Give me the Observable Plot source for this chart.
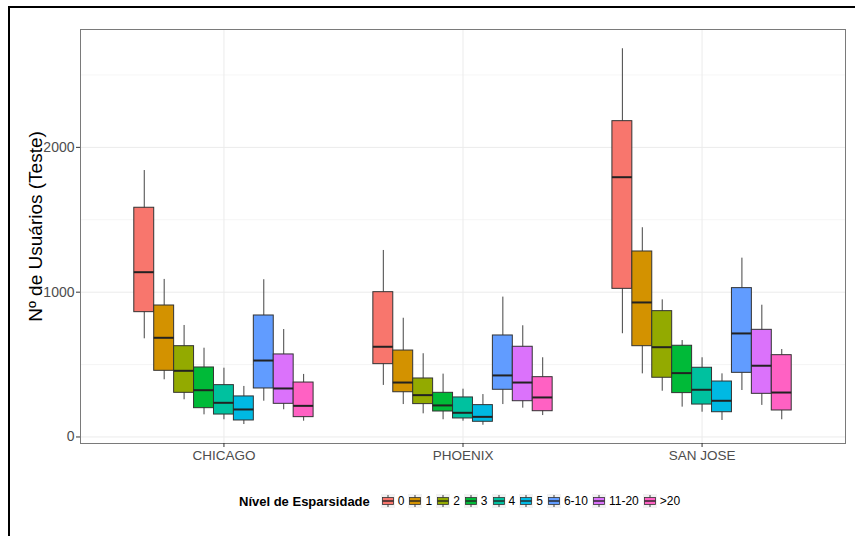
<!DOCTYPE html>
<html>
<head>
<meta charset="utf-8">
<script src="https://cdn.jsdelivr.net/npm/d3@7"></script>
<script src="https://cdn.jsdelivr.net/npm/@observablehq/plot@0.6"></script>
<style>
  html, body { margin: 0; padding: 0; background: #fff; }
  #wrap { position: relative; width: 855px; height: 536px; overflow: hidden; font-family: "Liberation Sans", Arial, Helvetica, sans-serif; }
  #chart { position: absolute; left: 0; top: 0; }
  #edge { position: absolute; left: 8px; top: 6px; width: 1000px; height: 1000px;
          border-top: 2px solid #000; border-left: 2px solid #000; pointer-events: none; z-index: 5; }
  #legend { position: absolute; left: 239px; top: 492px; display: flex; align-items: center;
            height: 18px; white-space: nowrap; color: #000; }
  #legend .title { font-weight: bold; font-size: 13px; margin-right: 11px; }
  #legend .item { display: flex; align-items: center; margin-right: 4px; }
  #legend .item svg { display: block; margin-right: 3px; }
  #legend .item span { font-size: 12px; color: #000; }
</style>
</head>
<body>
<div id="wrap">
  <div id="chart"></div>
  <div id="legend"></div>
  <div id="edge"></div>
</div>
<script>
// Cities on the x axis and sparsity levels dodged within each city
const cities = ["CHICAGO", "PHOENIX", "SAN JOSE"];
const levels = ["0", "1", "2", "3", "4", "5", "6-10", "11-20", ">20"];
const levelColors = ["#F8766D", "#D39200", "#93AA00", "#00BA38", "#00C19F", "#00B9E3", "#619CFF", "#DB72FB", "#FF61C3"];

// Box statistics, one row per city, one value per sparsity level
const whiskerLow = [
  [678, 395, 257, 153, 119, 86, 247, 188, 109],
  [356, 224, 160, 119, 109, 81, 224, 199, 148],
  [713, 436, 316, 206, 171, 114, 321, 218, 119]
];
const quartile1 = [
  [862, 457, 305, 199, 155, 114, 335, 229, 137],
  [503, 309, 227, 176, 128, 105, 326, 247, 178],
  [1023, 627, 409, 303, 224, 171, 443, 298, 183]
];
const median = [
  [1138, 685, 457, 323, 236, 190, 528, 335, 215],
  [623, 376, 289, 218, 167, 139, 425, 376, 273],
  [1794, 929, 620, 441, 326, 250, 715, 492, 307]
];
const quartile3 = [
  [1583, 908, 627, 480, 358, 280, 839, 570, 376],
  [1000, 597, 404, 305, 273, 220, 701, 623, 413],
  [2181, 1281, 869, 630, 478, 383, 1028, 740, 565]
];
const whiskerHigh = [
  [1840, 1088, 770, 613, 475, 349, 1086, 742, 432],
  [1288, 820, 575, 434, 330, 293, 966, 768, 547],
  [2681, 1445, 947, 666, 547, 436, 1235, 910, 604]
];

const yTicks = [0, 1000, 2000];
const yMinorGrid = [500, 1500, 2500];

// Dodge the nine levels across 75% of each city's slot
const dodgeWidth = 0.75;
const boxWidth = dodgeWidth / levels.length;

const rows = [];
cities.forEach((city, ci) => {
  levels.forEach((level, li) => {
    rows.push({
      city, level,
      x: ci + (li - (levels.length - 1) / 2) * boxWidth,
      lo: whiskerLow[ci][li],
      q1: quartile1[ci][li],
      med: median[ci][li],
      q3: quartile3[ci][li],
      hi: whiskerHigh[ci][li]
    });
  });
});

const ink = "#333333";
const font = '"Liberation Sans", Arial, Helvetica, sans-serif';

const chart = Plot.plot({
  width: 855,
  height: 470,
  marginLeft: 80,
  marginRight: 10,
  marginTop: 29,
  marginBottom: 27,
  style: { fontFamily: font, fontSize: "13.5px", color: "#4d4d4d", background: "transparent" },
  x: { domain: [-0.6, 2.6], axis: null },
  y: { domain: [-45, 2814], axis: null },
  color: { domain: levels, range: levelColors },
  marks: [
    // panel grid
    Plot.ruleY(yMinorGrid, { stroke: "#f3f3f3", strokeWidth: 0.8 }),
    Plot.ruleY(yTicks, { stroke: "#ebebeb", strokeWidth: 1 }),
    Plot.ruleX([0, 1, 2], { stroke: "#ebebeb", strokeWidth: 1 }),
    // whiskers
    Plot.ruleX(rows, { x: "x", y1: "lo", y2: "hi", stroke: "#444", strokeWidth: 1 }),
    // boxes
    Plot.rect(rows, {
      x1: d => d.x - boxWidth / 2,
      x2: d => d.x + boxWidth / 2,
      y1: "q1", y2: "q3",
      fill: "level", stroke: ink, strokeWidth: 1
    }),
    // medians
    Plot.ruleY(rows, {
      y: "med",
      x1: d => d.x - boxWidth / 2,
      x2: d => d.x + boxWidth / 2,
      stroke: "#222", strokeWidth: 2
    }),
    Plot.frame({ stroke: "#7a7a7a", strokeWidth: 1 }),
    // axes
    Plot.axisY(yTicks, {
      tickSize: 4, tickPadding: 2, stroke: ink, label: null, fill: "#4d4d4d",
      fontSize: 14, tickFormat: d => String(d)
    }),
    Plot.axisX([0, 1, 2], {
      tickSize: 4, tickPadding: 3, stroke: ink, label: null, fill: "#4d4d4d",
      fontSize: 13.5, tickFormat: i => cities[i]
    }),
    // y axis title
    Plot.text(["Nº de Usuários (Teste)"], {
      frameAnchor: "left", dx: -45, dy: -10, rotate: -90, textAnchor: "middle",
      fontSize: 19, fill: "#000"
    })
  ]
});
document.getElementById("chart").appendChild(chart);

// Legend: boxplot glyph keys below the panel
const legend = d3.select("#legend");
legend.append("span").attr("class", "title").text("Nível de Esparsidade");
levels.forEach((level, i) => {
  const item = legend.append("div").attr("class", "item");
  const key = item.append("svg").attr("width", 14).attr("height", 14);
  key.append("rect").attr("width", 14).attr("height", 14).attr("fill", "#f2f2f2");
  key.append("line").attr("x1", 7).attr("x2", 7).attr("y1", 1).attr("y2", 13).attr("stroke", "#444");
  key.append("rect").attr("x", 1.5).attr("y", 3.5).attr("width", 11).attr("height", 7)
    .attr("fill", levelColors[i]).attr("stroke", ink).attr("stroke-width", 0.8);
  key.append("line").attr("x1", 1.5).attr("x2", 12.5).attr("y1", 7).attr("y2", 7)
    .attr("stroke", "#222").attr("stroke-width", 1.4);
  item.append("span").text(level);
});
</script>
</body>
</html>
